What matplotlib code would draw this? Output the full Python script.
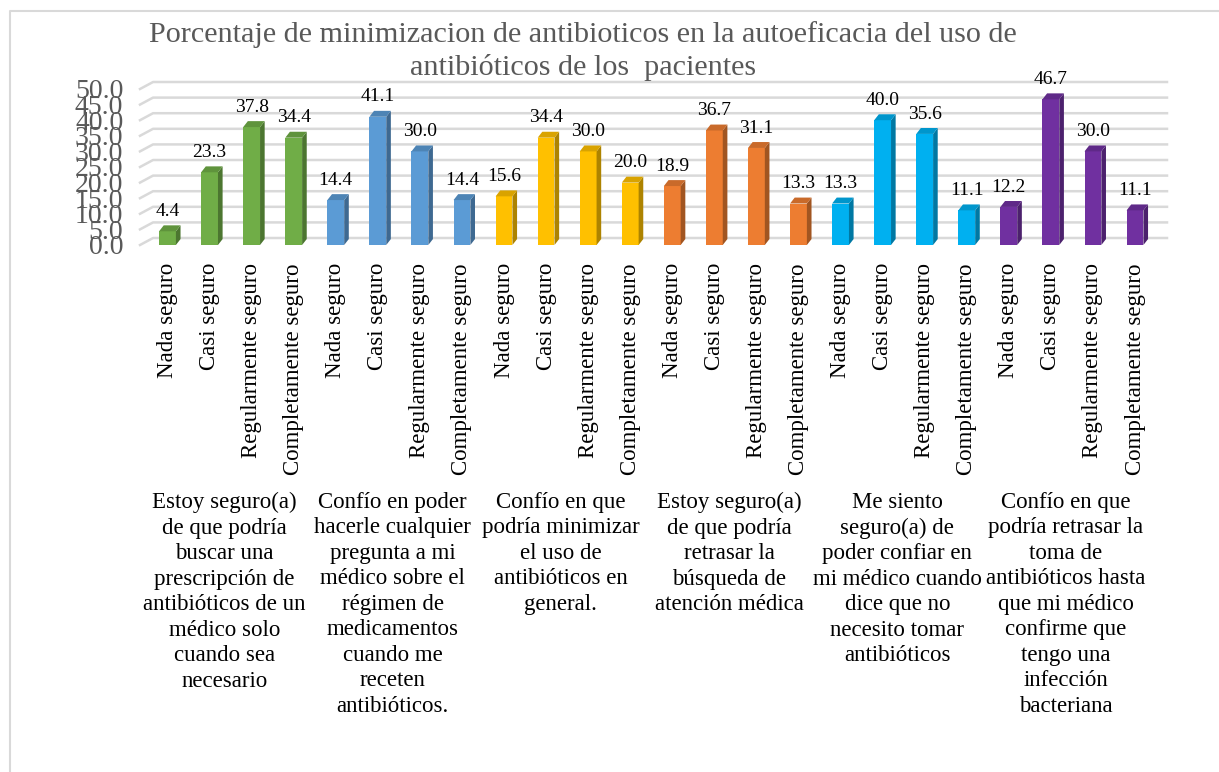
import numpy as np
import matplotlib
matplotlib.use("Agg")
import matplotlib.pyplot as plt
import matplotlib.transforms as mtransforms
from matplotlib.patches import Polygon
from matplotlib.lines import Line2D

plt.rcParams['font.family'] = ['Liberation Serif', 'DejaVu Serif']

TITLE = "Porcentaje de minimizacion de antibioticos en la autoeficacia del uso de\nantibióticos de los  pacientes"

categories = ["Nada seguro", "Casi seguro", "Regularmente seguro", "Completamente seguro"]

groups = [
    "Estoy seguro(a)\nde que podría\nbuscar una\nprescripción de\nantibióticos de un\nmédico solo\ncuando sea\nnecesario",
    "Confío en poder\nhacerle cualquier\npregunta a mi\nmédico sobre el\nrégimen de\nmedicamentos\ncuando me\nreceten\nantibióticos.",
    "Confío en que\npodría minimizar\nel uso de\nantibióticos en\ngeneral.",
    "Estoy seguro(a)\nde que podría\nretrasar la\nbúsqueda de\natención médica",
    "Me siento\nseguro(a) de\npoder confiar en\nmi médico cuando\ndice que no\nnecesito tomar\nantibióticos",
    "Confío en que\npodría retrasar la\ntoma de\nantibióticos hasta\nque mi médico\nconfirme que\ntengo una\ninfección\nbacteriana",
]

vals_g1 = [4.4, 23.3, 37.8, 34.4]
vals_g2 = [14.4, 41.1, 30.0, 14.4]
vals_g3 = [15.6, 34.4, 30.0, 20.0]
vals_g4 = [18.9, 36.7, 31.1, 13.3]
vals_g5 = [13.3, 40.0, 35.6, 11.1]
vals_g6 = [12.2, 46.7, 30.0, 11.1]

group_colors = ["#70AD47", "#5B9BD5", "#FFC000", "#ED7D31", "#00B0F0", "#7030A0"]

yticks = np.arange(0, 50.1, 5)

# ---- layout / style (pixels of a 1219x772 canvas) ----
W, H = 1219, 772
AX_L, AX_R, AX_B, AX_T = 140, 1167, 245, 89
BAR_W = 0.40
BAR_DX, BAR_DY = 0.11, 1.9       # bar depth in data units
WALL_DX, WALL_DY = 0.31, 2.24    # back wall offset in data units
GRID_C = "#D9D9D9"
TXT_GRAY = "#595959"


def shade(c, f):
    rgb = np.array(matplotlib.colors.to_rgb(c))
    return tuple(rgb * f)


all_vals = [vals_g1, vals_g2, vals_g3, vals_g4, vals_g5, vals_g6]
values = [v for g in all_vals for v in g]
colors = [c for c in group_colors for _ in categories]
labels = categories * len(groups)
x = np.arange(len(values))

fig = plt.figure(figsize=(W / 100, H / 100), dpi=100)
# chart frame: only top and left edges show in the crop
fig.lines.append(Line2D([10 / W, 10 / W, 1.0], [0.0, 1 - 11 / H, 1 - 11 / H],
                        transform=fig.transFigure, color="#D9D9D9", lw=1.5))

ax = fig.add_axes([AX_L / W, 1 - AX_B / H, (AX_R - AX_L) / W, (AX_B - AX_T) / H])
ax.set_xlim(-(167.5 - AX_L) / 42.07, len(values) - 1 + (AX_R - 1135) / 42.07)
ax.set_ylim(0, 50)
for s in ax.spines.values():
    s.set_visible(False)

x0, x1 = ax.get_xlim()
for v in yticks:
    ax.plot([x0, x0 + WALL_DX, x1], [v, v + WALL_DY, v + WALL_DY],
            color=GRID_C, lw=1.8, zorder=0, clip_on=False)

ax.bar(x, values, width=BAR_W, color=colors, zorder=2)
for xi, v, c in zip(x, values, colors):
    r = xi + BAR_W / 2
    l = xi - BAR_W / 2
    side = Polygon([(r, 0), (r + BAR_DX, BAR_DY), (r + BAR_DX, v + BAR_DY), (r, v)],
                   closed=True, facecolor=shade(c, 0.68), edgecolor="none", zorder=2)
    top = Polygon([(l, v), (r, v), (r + BAR_DX, v + BAR_DY), (l + BAR_DX, v + BAR_DY)],
                  closed=True, facecolor=shade(c, 0.85), edgecolor="none", zorder=2)
    ax.add_patch(side)
    ax.add_patch(top)
    ax.annotate(f"{v:.1f}", (xi, v), xytext=(0, 11), textcoords="offset points",
                ha="center", va="baseline", fontsize=14, color="black",
                annotation_clip=False)

ax.set_yticks(yticks)
ax.set_yticklabels([f"{v:.1f}" for v in yticks], fontsize=20, color=TXT_GRAY)
ax.set_xticks(x)
ax.set_xticklabels(labels, rotation=90, fontsize=16.5, color="black")
ax.tick_params(axis="y", length=0, pad=12)
ax.tick_params(axis="x", length=0, pad=13)

trans = mtransforms.blended_transform_factory(ax.transData, ax.transAxes)
for i, g in enumerate(groups):
    gx = i * len(categories) + (len(categories) - 1) / 2 - 0.15
    ax.text(gx, (AX_B - 492) / (AX_B - AX_T), g, transform=trans, ha="center",
            va="top", fontsize=16.5, linespacing=1.28, multialignment="center")

fig.text(583 / W, 1 - 51 / H, TITLE, ha="center", va="center", fontsize=21.7,
         color=TXT_GRAY, linespacing=1.29)

fig.savefig("out.png", dpi=100)
